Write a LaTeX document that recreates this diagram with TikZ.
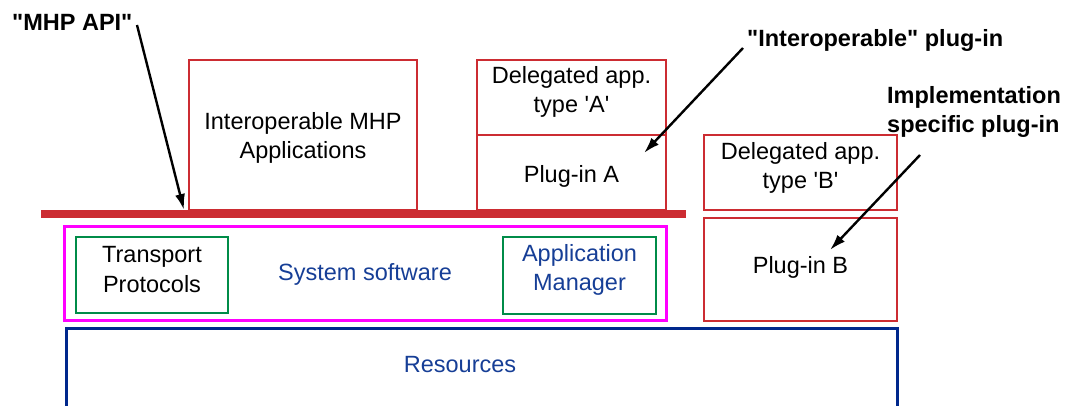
\documentclass[tikz,border=0pt]{standalone}
\usepackage{fontspec}
\setmainfont{Liberation Sans}[Ligatures=TeXOff]
\usetikzlibrary{arrows.meta}
\definecolor{boxred}{RGB}{204,44,50}
\definecolor{sysmag}{RGB}{255,0,255}
\definecolor{boxgreen}{RGB}{0,140,72}
\definecolor{resnavy}{RGB}{0,40,140}
\definecolor{txtblue}{RGB}{22,62,150}
\tikzset{
  txt/.style={font=\fontsize{23.5}{29.5}\selectfont, align=center, inner sep=0pt},
  lbl/.style={font=\fontsize{23.5}{29.5}\selectfont\bfseries, align=left, inner sep=0pt},
  redbox/.style={draw=boxred, line width=2.8pt, inner sep=0pt, fill=white},
  greenbox/.style={draw=boxgreen, line width=2.7pt, inner sep=0pt},
  magbox/.style={draw=sysmag, line width=3pt, inner sep=0pt},
  arr/.style={draw=black, line width=2.4pt, -{Latex[length=16pt,width=10pt]}},
}
\begin{document}
\begin{tikzpicture}[x=1pt,y=-1pt]
\useasboundingbox (0,0) rectangle (1066,405);
% Interoperable MHP applications
\node[redbox, minimum width=228pt, minimum height=150pt] (iapp) at (303,135) {};
\node[txt] (iapptxt) at (303,138) {Interoperable MHP\\Applications};
% Delegated app A + plug-in A
\node[redbox, minimum width=189pt, minimum height=75pt] (dela) at (571.5,97.5) {};
\node[redbox, minimum width=189pt, minimum height=75pt] (pluga) at (571.5,172.5) {};
\node[txt] (delatxt) at (571.5,92) {Delegated app.\\type 'A'};
\node[txt] (plugatxt) at (571.5,176) {Plug-in A};
% MHP API bar
\fill[boxred] (41,210) rectangle (686,218);
\coordinate (bar) at (184,210);
% System software
\node[magbox, minimum width=602pt, minimum height=94pt] (sys) at (365,273) {};
\node[txt, text=txtblue] (systxt) at (365,274) {System software};
\node[greenbox, minimum width=152pt, minimum height=76pt] (tp) at (152,275) {};
\node[txt] (tptxt) at (152,269.5) {Transport\\Protocols};
\node[greenbox, minimum width=153pt, minimum height=77pt] (am) at (579.5,275.5) {};
\node[txt, text=txtblue] (amtxt) at (579.5,270) {Application\\Manager};
% Resources (open at bottom)
\draw[resnavy, line width=3pt] (66,412) -- (66,328) -- (897,328) -- (897,412);
\node[txt, text=txtblue] (restxt) at (460,365) {Resources};
% Delegated app B + plug-in B
\node[redbox, minimum width=193pt, minimum height=75pt] (delb) at (800.5,172.5) {};
\node[txt] (delbtxt) at (800.5,168) {Delegated app.\\type 'B'};
\node[redbox, minimum width=193pt, minimum height=103pt] (plugb) at (800.5,269.5) {};
\node[txt] (plugbtxt) at (800.5,267) {Plug-in B};
% Labels
\node[lbl, anchor=west] (mhp) at (12,22) {"MHP API"};
\node[lbl, anchor=west] (iop) at (747,40) {"Interoperable" plug-in};
\node[lbl, anchor=west] (impl) at (887,112) {Implementation\\specific plug-in};
% Arrows
\coordinate (s1) at (137,25);
\coordinate (s2) at (743,48);
\coordinate (t2) at (644,153);
\coordinate (s3) at (920,155);
\coordinate (t3) at (830,250);
\draw[arr] (s1) -- (bar);
\draw[arr] (s2) -- (t2);
\draw[arr] (s3) -- (t3);
\end{tikzpicture}
\end{document}
